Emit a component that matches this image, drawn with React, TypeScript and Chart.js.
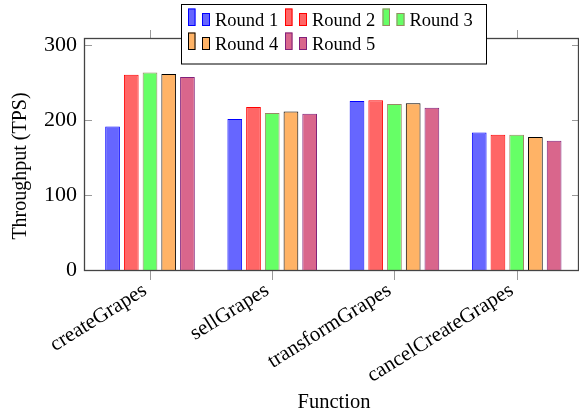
import React, { useEffect, useRef } from "react";
import { Chart, registerables } from "chart.js";

Chart.register(...registerables);

const categories = ["createGrapes", "sellGrapes", "transformGrapes", "cancelCreateGrapes"];
const seriesNames = ["Round 1", "Round 2", "Round 3", "Round 4", "Round 5"];
const round1 = [191, 201, 225, 183];
const round2 = [260, 217, 226, 180];
const round3 = [263, 209, 221, 180];
const round4 = [261, 211, 222, 177];
const round5 = [257, 208, 216, 172];
const yTickValues = [0, 100, 200, 300];
const yTitle = "Throughput (TPS)";
const xTitle = "Function";

const fillColors = ["#6666ff", "#ff6666", "#66ff66", "#ffb366", "#d9668c"];
const borderColors = ["#0000ff", "#ff0000", "#998866", "#000000", "#80207a"];

const SERIF = "'Liberation Serif', 'Times New Roman', serif";

const framePlugin = {
  id: "frame",
  afterDatasetsDraw(chart: any) {
    const { ctx, chartArea } = chart;
    const { left, right, top, bottom } = chartArea;
    const xs = chart.scales.x;
    const ys = chart.scales.y;
    ctx.save();
    ctx.strokeStyle = "#9a9a9a";
    ctx.lineWidth = 1;
    yTickValues.forEach((v) => {
      const py = Math.round(ys.getPixelForValue(v)) + 0.5;
      ctx.beginPath();
      ctx.moveTo(left, py);
      ctx.lineTo(left + 8, py);
      ctx.moveTo(right, py);
      ctx.lineTo(right - 7, py);
      ctx.stroke();
    });
    categories.forEach((_, i) => {
      const px = Math.round(xs.getPixelForValue(i)) + 0.5;
      ctx.beginPath();
      ctx.moveTo(px, bottom);
      ctx.lineTo(px, bottom + 10);
      ctx.moveTo(px, top);
      ctx.lineTo(px, top - 8);
      ctx.stroke();
    });
    ctx.strokeStyle = "#444444";
    ctx.lineWidth = 1.3;
    ctx.strokeRect(left + 0.5, top + 0.5, right - left - 1, bottom - top);
    ctx.restore();
  },
  afterDraw(chart: any) {
    const { ctx, chartArea } = chart;
    ctx.save();
    // axis titles
    ctx.fillStyle = "#000000";
    ctx.font = `20.5px ${SERIF}`;
    ctx.textAlign = "center";
    ctx.textBaseline = "alphabetic";
    ctx.fillText(xTitle, 334, 408);
    ctx.save();
    ctx.translate(26, 166);
    ctx.rotate(-Math.PI / 2);
    ctx.font = `20px ${SERIF}`;
    ctx.fillText(yTitle, 0, 0);
    ctx.restore();
    // legend
    const bx = 181, by = 4, bw = 305, bh = 59.5;
    ctx.fillStyle = "#ffffff";
    ctx.fillRect(bx, by, bw, bh);
    ctx.strokeStyle = "#000000";
    ctx.lineWidth = 1;
    ctx.strokeRect(bx + 0.5, by + 0.5, bw, bh);
    const colX = [188, 285, 382.5];
    const rowBase = [26, 50];
    ctx.font = `18.5px ${SERIF}`;
    ctx.textBaseline = "alphabetic";
    ctx.textAlign = "left";
    seriesNames.forEach((name, i) => {
      const col = i < 3 ? i : i - 3;
      const row = i < 3 ? 0 : 1;
      const x = colX[col];
      const base = rowBase[row];
      ctx.fillStyle = fillColors[i];
      ctx.strokeStyle = borderColors[i];
      ctx.lineWidth = 1;
      ctx.fillRect(x, base - 17.5, 7.5, 17.5);
      ctx.strokeRect(x + 0.5, base - 17, 6.5, 16.5);
      ctx.fillRect(x + 14, base - 13, 8, 13);
      ctx.strokeRect(x + 14.5, base - 12.5, 7, 12);
      ctx.fillStyle = "#000000";
      ctx.fillText(name, x + 27, base);
    });
    ctx.restore();
  },
};

export default function App() {
  const canvasRef = useRef<HTMLCanvasElement | null>(null);

  useEffect(() => {
    const canvas = canvasRef.current;
    if (!canvas) return;
    const allRounds = [round1, round2, round3, round4, round5];
    const chart = new Chart(canvas, {
      type: "bar",
      data: {
        datasets: allRounds.map((vals, i) => ({
          label: seriesNames[i],
          data: vals.map((v, j) => ({ x: j, y: v })),
          backgroundColor: fillColors[i],
          borderColor: borderColors[i],
          borderWidth: 1,
          barPercentage: 0.786,
          categoryPercentage: 0.766,
        })),
      },
      options: {
        responsive: false,
        animation: false,
        devicePixelRatio: 1,
        layout: { padding: { top: 38, right: 0, left: 0, bottom: 0 } },
        plugins: {
          legend: { display: false },
          tooltip: { enabled: false },
        },
        scales: {
          x: {
            type: "linear",
            position: "bottom",
            offset: false,
            min: -0.54,
            max: 3.51,
            grid: { display: false, drawTicks: false, offset: false },
            border: { display: false },
            afterBuildTicks: (axis: any) => {
              axis.ticks = categories.map((_, i) => ({ value: i }));
            },
            afterFit: (scale: any) => {
              scale.height = 146;
            },
            ticks: {
              autoSkip: false,
              minRotation: 32,
              maxRotation: 32,
              padding: 8,
              labelOffset: -5,
              color: "#000000",
              font: { family: SERIF, size: 21 },
              callback: (v: any) => categories[v as number] ?? "",
            },
            title: { display: false },
          },
          y: {
            type: "linear",
            min: 0,
            max: 309,
            grid: { display: false, drawTicks: false },
            border: { display: false },
            afterBuildTicks: (axis: any) => {
              axis.ticks = yTickValues.map((v) => ({ value: v }));
            },
            afterFit: (scale: any) => {
              scale.width = 84;
            },
            ticks: {
              padding: 7,
              color: "#000000",
              font: { family: SERIF, size: 22 },
            },
            title: { display: false },
          },
        },
      },
      plugins: [framePlugin],
    });
    return () => chart.destroy();
  }, []);

  return (
    <div style={{ position: "absolute", left: 0, top: 0, width: 579, height: 416, background: "#ffffff" }}>
      <canvas ref={canvasRef} width={579} height={416} style={{ width: 579, height: 416, display: "block" }} />
    </div>
  );
}
